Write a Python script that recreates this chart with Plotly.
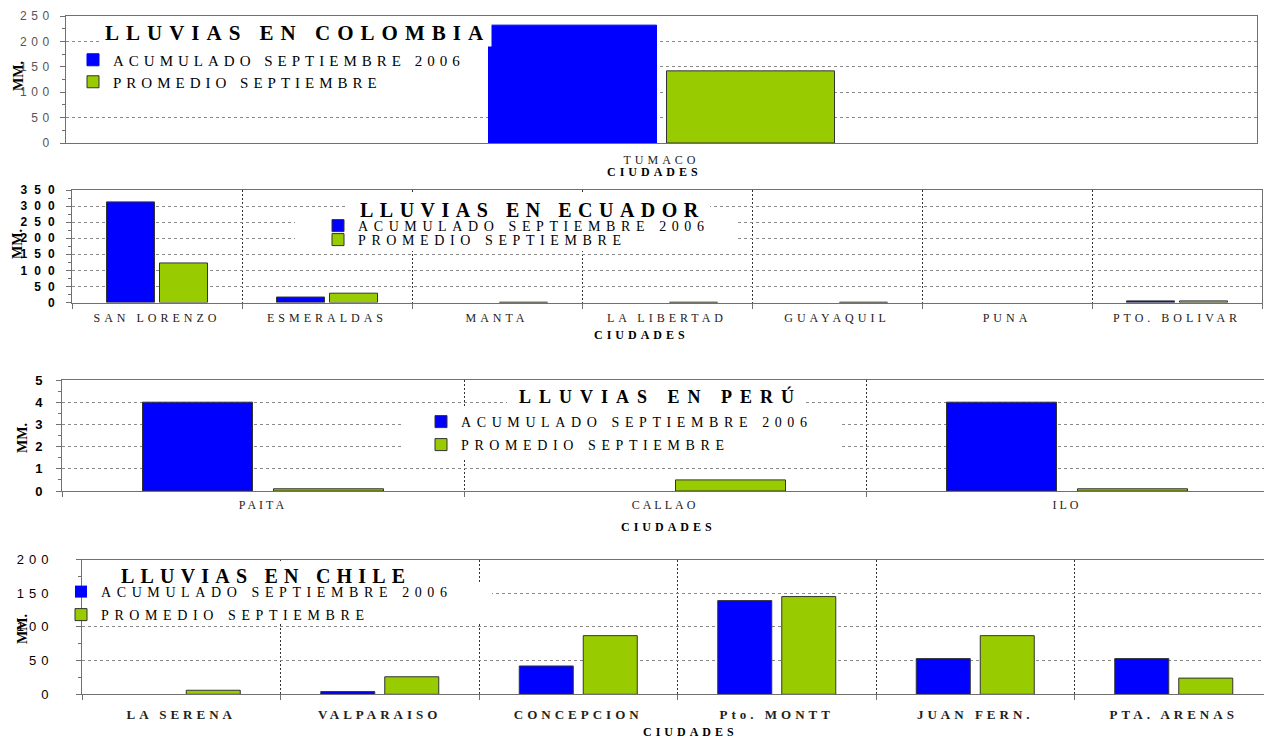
import plotly.graph_objects as go

# ---------------------------------------------------------------- data
SERIES = ["ACUMULADO SEPTIEMBRE 2006", "PROMEDIO SEPTIEMBRE"]

col_cities = ["TUMACO"]
col_acum = [232]
col_prom = [142]
col_yticks = [0, 50, 100, 150, 200, 250]

ecu_cities = ["SAN LORENZO", "ESMERALDAS", "MANTA", "LA LIBERTAD",
              "GUAYAQUIL", "PUNA", "PTO. BOLIVAR"]
ecu_acum = [313, 17, 0, 0, 0, 0, 5]
ecu_prom = [123, 29, 1, 1, 1, 0, 5]
ecu_yticks = [0, 50, 100, 150, 200, 250, 300, 350]

per_cities = ["PAITA", "CALLAO", "ILO"]
per_acum = [4, 0, 4]
per_prom = [0.1, 0.5, 0.1]
per_yticks = [0, 1, 2, 3, 4, 5]

chi_cities = ["LA SERENA", "VALPARAISO", "CONCEPCION", "Pto. MONTT",
              "JUAN FERN.", "PTA. ARENAS"]
chi_acum = [0, 4, 42, 139, 53, 53]
chi_prom = [6, 26, 87, 145, 87, 24]
chi_yticks = [0, 50, 100, 150, 200]

# ---------------------------------------------------------------- style
W, H = 1264, 738
BLUE = "#0000FF"
GREEN = "#99CC00"
EDGE = "#333333"
AXIS = "#707070"
GRID = "#8a8a8a"
SEP = "#333333"
SERIF = "Liberation Serif"
SANS = "Liberation Sans"


def spaced(text, ls):
    return f"<span style='letter-spacing:{ls}px'>{text}</span>"


def fx(px):
    return px / W


def fy(py):
    return 1 - py / H


# plot-area geometry of each panel, in pixels
GEO = {
    "col": dict(x0=66, x1=1257, top=16, bottom=143, cat=1191),
    "ecu": dict(x0=72, x1=1262, top=190, bottom=302.5, cat=170),
    "per": dict(x0=62, x1=1264, top=380, bottom=491, cat=402),
    "chi": dict(x0=82, x1=1264, top=559.5, bottom=694.3, cat=198.5),
}
YMAX = {"col": col_yticks[-1], "ecu": ecu_yticks[-1],
        "per": per_yticks[-1], "chi": chi_yticks[-1]}

fig = go.Figure()

panels = [
    # key, axis suffix, cities, acum, prom, bar px, gap px, legend ids
    ("col", "", col_cities, col_acum, col_prom, 168, 10, ("legend", "legend2")),
    ("ecu", "2", ecu_cities, ecu_acum, ecu_prom, 48, 5, ("legend3", "legend4")),
    ("per", "3", per_cities, per_acum, per_prom, 110, 21, ("legend5", "legend6")),
    ("chi", "4", chi_cities, chi_acum, chi_prom, 54, 10, ("legend7", "legend8")),
]

legend_ls = {"col": 5, "ecu": 5.6, "per": 5.6, "chi": 5.6}


def outline(values):
    # empty readings get no outline, so nothing is drawn for them
    return [0 if v == 0 else 1 for v in values]


for key, sfx, cities, acum, prom, bar_px, gap_px, legs in panels:
    g = GEO[key]
    w = bar_px / g["cat"]
    gap = gap_px / g["cat"]
    blue_line = BLUE if key == "col" else EDGE
    fig.add_trace(go.Bar(
        x=cities, y=acum, xaxis="x" + sfx, yaxis="y" + sfx,
        width=w, offset=-gap / 2 - w,
        marker=dict(color=BLUE,
                    line=dict(color=blue_line, width=outline(acum))),
        name=spaced(SERIES[0], legend_ls[key]), legend=legs[0],
        hoverinfo="x+y"))
    fig.add_trace(go.Bar(
        x=cities, y=prom, xaxis="x" + sfx, yaxis="y" + sfx,
        width=w, offset=gap / 2,
        marker=dict(color=GREEN,
                    line=dict(color=EDGE, width=outline(prom))),
        name=spaced(SERIES[1], legend_ls[key]), legend=legs[1],
        hoverinfo="x+y"))

layout = dict(
    width=W, height=H, margin=dict(l=0, r=0, t=0, b=0, autoexpand=False),
    paper_bgcolor="white", plot_bgcolor="white",
    barmode="group", showlegend=True,
    font=dict(family=SERIF, color="black"),
)

# ---------------------------------------------------------------- axes
xcfg = {
    "col": dict(size=12, ls=4, bold=False, standoff=6, ticks=""),
    "ecu": dict(size=12, ls=4, bold=False, standoff=4, ticks="outside"),
    "per": dict(size=12, ls=3, bold=False, standoff=3, ticks="outside"),
    "chi": dict(size=13, ls=4, bold=True, standoff=8, ticks="outside"),
}
ycfg = {
    "col": dict(ticks=col_yticks, minor=25, size=12, ls=4.5, bold=False,
                color="#555555", standoff=4),
    "ecu": dict(ticks=ecu_yticks, minor=25, size=12, ls=7, bold=True,
                color="black", standoff=2),
    "per": dict(ticks=per_yticks, minor=0.5, size=13, ls=0, bold=True,
                color="black", standoff=11),
    "chi": dict(ticks=chi_yticks, minor=25, size=13, ls=5, bold=False,
                color="black", standoff=20),
}

for key, sfx, cities, acum, prom, bar_px, gap_px, legs in panels:
    g = GEO[key]
    xc, yc = xcfg[key], ycfg[key]
    ncat = (g["x1"] - g["x0"]) / g["cat"]
    layout["xaxis" + sfx] = dict(
        domain=[fx(g["x0"]), fx(g["x1"])],
        anchor="y" + sfx, type="category", automargin=False,
        range=[-0.5, -0.5 + ncat],
        tickmode="array", tickvals=cities,
        ticktext=[spaced(c, xc["ls"]) for c in cities],
        tickson="boundaries", ticks=xc["ticks"], ticklen=5, tickcolor=AXIS,
        tickangle=0, ticklabelstandoff=xc["standoff"],
        tickfont=dict(family=SERIF, size=xc["size"], color="#222222",
                      weight="bold" if xc["bold"] else "normal"),
        showgrid=(key != "col"), gridcolor=SEP, griddash="2px,2px",
        gridwidth=1,
        showline=True, linecolor=AXIS, linewidth=1, mirror=True,
        zeroline=False, fixedrange=True,
    )
    layout["yaxis" + sfx] = dict(
        domain=[fy(g["bottom"]), fy(g["top"])],
        anchor="x" + sfx, range=[0, YMAX[key]], automargin=False,
        tickmode="array", tickvals=yc["ticks"],
        ticktext=[spaced(str(t), yc["ls"]) for t in yc["ticks"]],
        ticks="outside", ticklen=5, tickcolor=AXIS,
        ticklabelstandoff=yc["standoff"],
        tickfont=dict(family=SANS, size=yc["size"], color=yc["color"],
                      weight="bold" if yc["bold"] else "normal"),
        minor=dict(tickmode="linear", tick0=0, dtick=yc["minor"],
                   ticks="outside", ticklen=3, tickcolor=AXIS,
                   showgrid=False),
        showgrid=True, gridcolor=GRID, griddash="3px,3px", gridwidth=1,
        showline=True, linecolor=AXIS, linewidth=1, mirror=True,
        zeroline=False, fixedrange=True,
    )

# ---------------------------------------------------------------- legends
# one legend per entry so each row can be placed on its own
legend_rows = [
    ("legend", 93, 60, 15),
    ("legend2", 93, 82, 15),
    ("legend3", 338, 226, 14),
    ("legend4", 338, 240, 14),
    ("legend5", 441, 422, 14),
    ("legend6", 441, 445, 14),
    ("legend7", 81, 592, 14),
    ("legend8", 81, 615, 14),
]
for lid, cx, cy, size in legend_rows:
    layout[lid] = dict(
        x=fx(cx - 20), y=fy(cy), xanchor="left", yanchor="middle",
        bgcolor="rgba(0,0,0,0)", borderwidth=0, itemwidth=30,
        font=dict(family=SERIF, size=size, color="black"),
        itemclick=False, itemdoubleclick=False,
    )

# ---------------------------------------------------------------- blank zones
# white patches between gridlines and bars, behind titles and legends
zones = [
    ("col", "", 100, 19, 498, 48),
    ("col", "", 66, 48, 488, 104),
    ("ecu", "2", 345, 192, 710, 213),
    ("ecu", "2", 295, 213, 737, 251),
    ("per", "3", 507, 383, 803, 408),
    ("per", "3", 402, 408, 840, 458),
    ("chi", "4", 110, 561, 430, 583),
    ("chi", "4", 83, 583, 492, 624),
]
shapes = []
for key, sfx, x0, y0, x1, y1 in zones:
    g = GEO[key]
    span = g["bottom"] - g["top"]
    shapes.append(dict(
        type="rect", layer="between",
        xref="x" + sfx, yref="y" + sfx,
        x0=-0.5 + (x0 - g["x0"]) / g["cat"],
        x1=-0.5 + (x1 - g["x0"]) / g["cat"],
        y0=YMAX[key] * (g["bottom"] - y1) / span,
        y1=YMAX[key] * (g["bottom"] - y0) / span,
        fillcolor="white", line=dict(width=0),
    ))
layout["shapes"] = shapes

# ---------------------------------------------------------------- text
annotations = []
titles = [
    ("LLUVIAS EN COLOMBIA", 297, 33.5, 21, 7, "white"),
    ("LLUVIAS EN ECUADOR", 532, 210, 20, 6.5, "rgba(0,0,0,0)"),
    ("LLUVIAS EN PERÚ", 660, 396, 18, 8, "rgba(0,0,0,0)"),
    ("LLUVIAS EN CHILE", 266, 576, 20, 6.2, "rgba(0,0,0,0)"),
]
for text, cx, cy, size, ls, bg in titles:
    annotations.append(dict(
        text=spaced(text, ls), x=fx(cx), y=fy(cy), xref="paper", yref="paper",
        xanchor="center", yanchor="middle", showarrow=False,
        bgcolor=bg, borderpad=1,
        font=dict(family=SERIF, size=size, color="black", weight="bold"),
    ))

for cx, cy in [(654, 172), (641, 335), (668, 527), (690, 732)]:
    annotations.append(dict(
        text=spaced("CIUDADES", 4), x=fx(cx), y=fy(cy),
        xref="paper", yref="paper", xanchor="center", yanchor="middle",
        showarrow=False,
        font=dict(family=SERIF, size=12, color="black", weight="bold"),
    ))

for cx, cy in [(18, 76), (17, 244), (22, 438), (22, 629)]:
    annotations.append(dict(
        text="MM.", x=fx(cx), y=fy(cy), xref="paper", yref="paper",
        xanchor="center", yanchor="middle", showarrow=False, textangle=-90,
        font=dict(family=SERIF, size=14, color="black", weight="bold"),
    ))
layout["annotations"] = annotations

fig.update_layout(**layout)
fig.write_html("out.html")
